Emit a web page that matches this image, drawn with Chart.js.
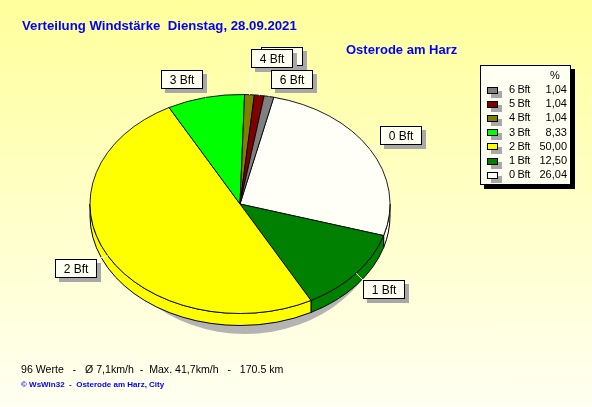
<!DOCTYPE html>
<html>
<head>
<meta charset="utf-8">
<script src="https://cdn.jsdelivr.net/npm/chart.js@4.4.0/dist/chart.umd.min.js"></script>
<style>
  body { margin: 0; }
  #rahmen {
    position: relative; width: 592px; height: 407px; overflow: hidden;
    background: linear-gradient(to bottom, #ffff9c, #fffff2);
    font-family: "Liberation Sans", Arial, sans-serif;
  }
  #rahmen canvas { position: absolute; left: 0; top: 0; }
  .txt { position: absolute; white-space: pre; }
  #titel { left: 22px; top: 19px; font-size: 13.2px; line-height: 13px; font-weight: bold; color: #0000ff; }
  #ort { left: 346px; top: 43px; font-size: 13px; line-height: 13px; font-weight: bold; color: #0000ff; }
  #info { left: 21px; top: 364px; font-size: 10.6px; line-height: 11px; color: #000; }
  #quelle { left: 21px; top: 381px; font-size: 8px; line-height: 8px; font-weight: bold; color: #0000ff; }
  #legende {
    position: absolute; left: 480px; top: 65px; width: 89px; height: 118px;
    background: #fffff2; border: 1px solid #000; box-shadow: 4px 4px 0 #000;
    font-size: 11px; line-height: 11px;
  }
  #legende .kasten {
    position: absolute; left: 6px; width: 9px; height: 5px; border: 1px solid #000;
    box-shadow: 4px 4px 0 #a8a8a8;
  }
  #legende .name { position: absolute; left: 28px; letter-spacing: -0.3px; }
  #legende .wert { position: absolute; right: 3px; text-align: right; }
</style>
</head>
<body>
<div id="rahmen">
  <canvas id="torte" width="592" height="407"></canvas>
  <div class="txt" id="titel">Verteilung Windstärke  Dienstag, 28.09.2021</div>
  <div class="txt" id="ort">Osterode am Harz</div>
  <div id="legende"></div>
  <div class="txt" id="info">96 Werte   -   Ø 7,1km/h  -  Max. 41,7km/h   -   170.5 km</div>
  <div class="txt" id="quelle">© WsWin32  -  Osterode am Harz, City</div>
</div>
<script>
const kategorien = ['0 Bft', '1 Bft', '2 Bft', '3 Bft', '4 Bft', '5 Bft', '6 Bft'];
const anteile = [26.04, 12.50, 50.00, 8.33, 1.04, 1.04, 1.04];
const farben = ['#fffff8', '#008000', '#ffff00', '#00ff00', '#808000', '#800000', '#808080'];

const kippung = 0.73;   // Ellipse: Höhe / Breite
const tiefe = 12;       // Höhe der Seitenwand
// Verschiebung der Beschriftungen, damit sie sich nicht überdecken
const schubX = [0, 0, 0, -15, 20, 18, 16];
const schubY = [0, 0, 0, 8, -10, -13, 9];
const reihenfolge = [0, 1, 2, 3, 5, 4, 6];

// Legende (6 Bft oben)
const legende = document.getElementById('legende');
legende.innerHTML = '<div class="txt" style="left:69px;top:' + (78 - 65 - 9.3) + 'px">%</div>';
for (let z = 0; z < kategorien.length; z++) {
    const i = kategorien.length - 1 - z;
    const grund = 93.5 + z * 14.1 - 66;
    legende.innerHTML +=
        '<div class="kasten" style="top:' + (grund - 6.5) + 'px;background:' + farben[i] + '"></div>' +
        '<div class="txt name" style="top:' + (grund - 9.3) + 'px">' + kategorien[i] + '</div>' +
        '<div class="txt wert" style="top:' + (grund - 9.3) + 'px">' + anteile[i].toFixed(2).replace('.', ',') + '</div>';
}

const torte3d = {
    id: 'torte3d',
    beforeDatasetsDraw(chart) {
        const ctx = chart.ctx;
        const bogen = chart.getDatasetMeta(0).data;
        const cx = bogen[0].x, cy = bogen[0].y, r = bogen[0].outerRadius;

        ctx.save();
        // Schatten
        ctx.fillStyle = '#b4b4b4';
        ctx.beginPath();
        ctx.ellipse(cx + 5, cy + 10, r - 10, r * kippung + 10.5, 0, 0, 2 * Math.PI);
        ctx.fill();

        // Seitenwand, nur vordere Hälfte
        bogen.forEach(b => {
            for (const off of [-2 * Math.PI, 0, 2 * Math.PI]) {
                const a1 = Math.max(b.startAngle, off);
                const a2 = Math.min(b.endAngle, off + Math.PI);
                if (a2 <= a1) continue;
                ctx.beginPath();
                ctx.ellipse(cx, cy, r, r * kippung, 0, a1, a2);
                ctx.ellipse(cx, cy + tiefe, r, r * kippung, 0, a2, a1, true);
                ctx.closePath();
                ctx.fillStyle = b.options.backgroundColor;
                ctx.fill();
                ctx.strokeStyle = '#000';
                ctx.lineWidth = 1;
                ctx.stroke();
            }
        });
        ctx.restore();

        // Oberseite flach drücken
        ctx.save();
        ctx.translate(0, cy);
        ctx.scale(1, kippung);
        ctx.translate(0, -cy);
    },
    afterDatasetsDraw(chart) {
        const ctx = chart.ctx;
        ctx.restore();

        const bogen = chart.getDatasetMeta(0).data;
        const cx = bogen[0].x, cy = bogen[0].y, r = bogen[0].outerRadius;
        ctx.save();
        ctx.font = '12px "Liberation Sans", Arial, sans-serif';
        ctx.textBaseline = 'middle';
        ctx.textAlign = 'center';

        const boxen = bogen.map((b, i) => {
            const mitte = (b.startAngle + b.endAngle) / 2;
            const w = Math.round(ctx.measureText(kategorien[i]).width + 17), h = 19;
            const lx = cx + r * 1.24 * Math.cos(mitte) + schubX[i];
            const ly = cy + r * kippung * 1.24 * Math.sin(mitte) + schubY[i];
            return {
                rand: [cx + r * Math.cos(mitte), cy + r * kippung * Math.sin(mitte)],
                x: Math.round(lx - w / 2), y: Math.round(ly - h / 2), w, h
            };
        });

        // Hinweislinien
        ctx.strokeStyle = '#ffffff';
        ctx.lineWidth = 1;
        boxen.forEach(k => {
            const zx = Math.min(Math.max(k.rand[0], k.x), k.x + k.w);
            const zy = Math.min(Math.max(k.rand[1], k.y), k.y + k.h);
            ctx.beginPath();
            ctx.moveTo(k.rand[0], k.rand[1]);
            ctx.lineTo(zx, zy);
            ctx.stroke();
        });

        reihenfolge.forEach(i => {
            const k = boxen[i];
            ctx.fillStyle = '#a8a8a8';
            ctx.fillRect(k.x + 4, k.y + 4, k.w, k.h);
            ctx.fillStyle = '#fffff2';
            ctx.fillRect(k.x, k.y, k.w, k.h);
            ctx.strokeStyle = '#000';
            ctx.strokeRect(k.x + 0.5, k.y + 0.5, k.w - 1, k.h - 1);
            ctx.fillStyle = '#000';
            ctx.fillText(kategorien[i], k.x + k.w / 2, k.y + k.h / 2 + 1);
        });
        ctx.restore();
    }
};

const ctxTorte = document.getElementById('torte').getContext('2d');
const torte = new Chart(ctxTorte, {
    type: 'pie',
    data: {
        labels: kategorien,
        datasets: [{
            data: anteile,
            backgroundColor: farben,
            borderColor: '#000000',
            borderWidth: 1,
            hoverOffset: 0
        }]
    },
    options: {
        responsive: false,
        animation: false,
        rotation: 13,
        radius: 150,
        layout: { padding: { left: 90, right: 202, top: 54, bottom: 53 } },
        plugins: {
            legend: { display: false },
            title: { display: false },
            tooltip: { enabled: false }
        },
        events: []
    },
    plugins: [torte3d]
});
</script>
</body>
</html>
